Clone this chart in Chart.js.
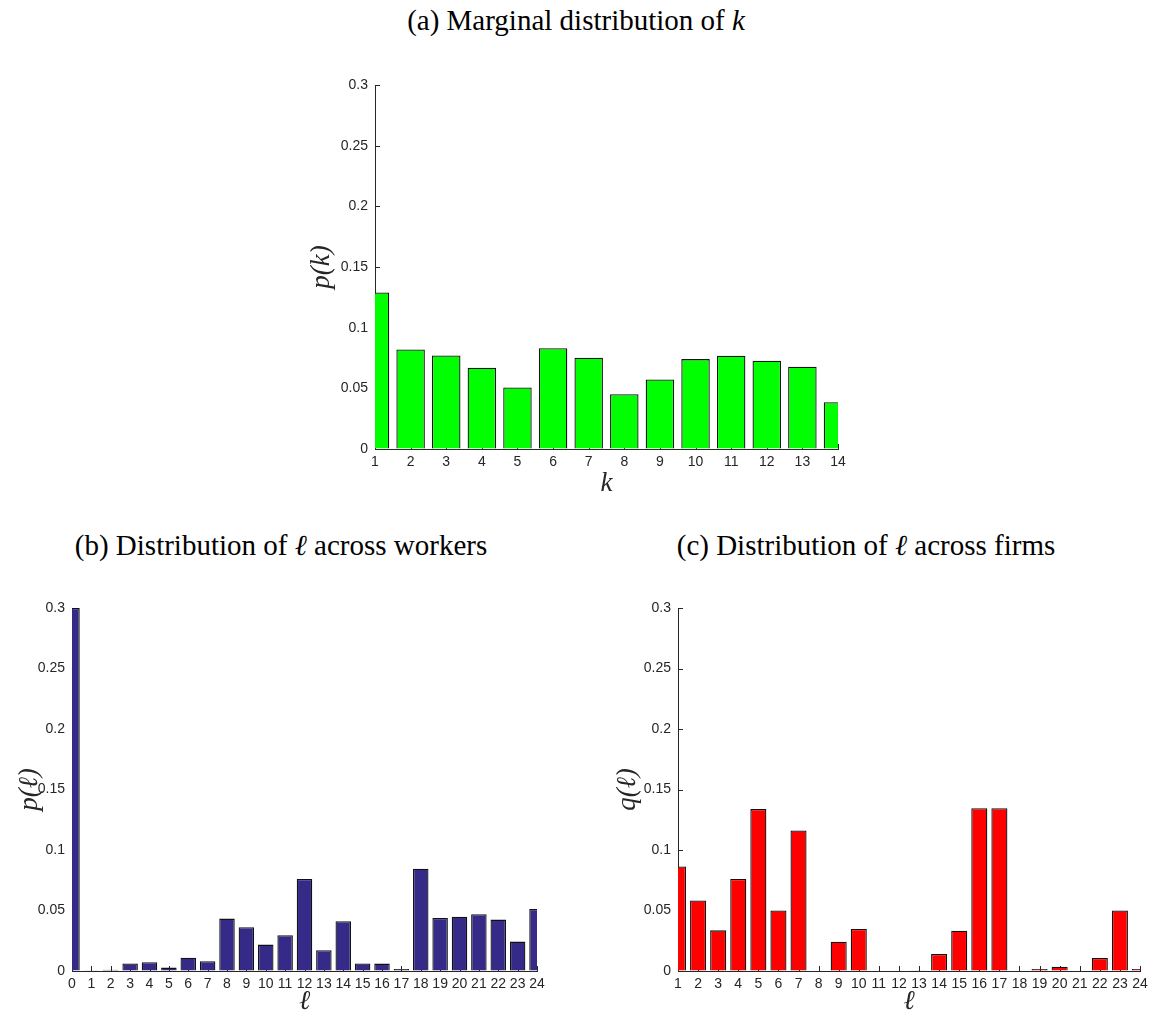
<!DOCTYPE html>
<html>
<head>
<meta charset="utf-8">
<script src="https://cdn.jsdelivr.net/npm/chart.js@4.4.0/dist/chart.umd.min.js"></script>
<style>
  body { margin: 0; width: 1153px; height: 1019px; background: #fff; position: relative; overflow: hidden; }
  .ttl { position: absolute; font-family: "Liberation Serif", "Times New Roman", serif; font-size: 29px; line-height: 34px;
         color: #000; white-space: nowrap; transform: translateX(-50%); }
  canvas { position: absolute; }
</style>
</head>
<body>
<div class="ttl" style="left:576px;top:3px">(a) Marginal distribution of <i>k</i></div>
<div class="ttl" style="left:281px;top:528px">(b) Distribution of <i>ℓ</i> across workers</div>
<div class="ttl" style="left:866px;top:528px">(c) Distribution of <i>ℓ</i> across firms</div>

<canvas id="chartA" width="560" height="450" style="left:300px;top:60px"></canvas>
<canvas id="chartB" width="560" height="439" style="left:0px;top:580px"></canvas>
<canvas id="chartC" width="563" height="439" style="left:590px;top:580px"></canvas>

<script>
// panel (a): marginal distribution of k
const kCats = [1, 2, 3, 4, 5, 6, 7, 8, 9, 10, 11, 12, 13, 14];
const pK = [0.129, 0.082, 0.077, 0.067, 0.0507, 0.083, 0.0752, 0.0452, 0.0573, 0.0741, 0.0769, 0.0727, 0.0678, 0.0386];

// panel (b): distribution of l across workers
const ellWorkers = [0, 1, 2, 3, 4, 5, 6, 7, 8, 9, 10, 11, 12, 13, 14, 15, 16, 17, 18, 19, 20, 21, 22, 23, 24];
const pEll = [0.3, 0.0003, 0.0011, 0.0063, 0.0072, 0.0028, 0.011, 0.008, 0.0433, 0.0361, 0.0218, 0.0295, 0.0761,
              0.0171, 0.0411, 0.0063, 0.0061, 0.0017, 0.0846, 0.0438, 0.0449, 0.0469, 0.0425, 0.0243, 0.0513];

// panel (c): distribution of l across firms
const ellFirms = [1, 2, 3, 4, 5, 6, 7, 8, 9, 10, 11, 12, 13, 14, 15, 16, 17, 18, 19, 20, 21, 22, 23, 24];
const qEll = [0.0864, 0.0583, 0.0336, 0.076, 0.1338, 0.0501, 0.1161, 0.0005, 0.0242, 0.0347, 0, 0, 0.0003,
              0.014, 0.0333, 0.1346, 0.1346, 0, 0.0017, 0.0036, 0, 0.0107, 0.0501, 0.0017];

const yMin = 0, yMax = 0.3, yStep = 0.05;

const AXIS = '#262626';
const tickFont = { family: '"Liberation Sans", Arial, sans-serif', size: 14 };
const labFont = { family: '"Liberation Serif", "Times New Roman", serif', size: 27, style: 'italic' };

// MATLAB style ticks pointing into the axes, drawn under the bars
const inTicks = {
  id: 'inTicks',
  beforeDatasetsDraw(chart) {
    const { ctx, chartArea: a, scales: { x, y } } = chart;
    ctx.save();
    ctx.strokeStyle = AXIS;
    ctx.lineWidth = 1;
    ctx.beginPath();
    x.ticks.forEach(t => {
      const px = Math.round(x.getPixelForValue(t.value)) + 0.5;
      ctx.moveTo(px, a.bottom);
      ctx.lineTo(px, a.bottom - 5);
    });
    y.ticks.forEach(t => {
      const py = Math.round(y.getPixelForValue(t.value)) + 0.5;
      ctx.moveTo(a.left, py);
      ctx.lineTo(a.left + 5, py);
    });
    ctx.stroke();
    ctx.restore();
  }
};

function makePanel(id, cats, vals, color, cfg) {
  return new Chart(document.getElementById(id), {
    type: 'bar',
    data: {
      datasets: [{
        data: cats.map((c, i) => ({ x: c, y: vals[i] })),
        backgroundColor: color,
        borderColor: '#111',
        borderWidth: 1.3,
        barPercentage: 0.8,
        categoryPercentage: 1,
        clip: 0
      }]
    },
    options: {
      responsive: false,
      animation: false,
      devicePixelRatio: 1,
      layout: { padding: cfg.padding },
      plugins: { legend: { display: false }, tooltip: { enabled: false } },
      scales: {
        x: {
          type: 'linear',
          min: cats[0], max: cats[cats.length - 1],
          offset: false,
          z: 1,
          grid: { display: true, drawOnChartArea: false, drawTicks: false, offset: false },
          border: { display: true, color: AXIS, width: 1 },
          ticks: { stepSize: 1, autoSkip: false, maxRotation: 0, color: AXIS, font: tickFont, padding: 5 },
          title: { display: true, text: cfg.xTitle, color: AXIS, font: labFont, padding: { top: 0, bottom: cfg.xTitlePad } },
          afterFit(s) { s.height = cfg.xHeight; }
        },
        y: {
          min: yMin, max: yMax,
          z: 1,
          grid: { display: true, drawOnChartArea: false, drawTicks: false },
          border: { display: true, color: AXIS, width: 1 },
          ticks: {
            stepSize: yStep, color: AXIS, font: tickFont, padding: 7,
            callback: v => String(Number(v.toFixed(2)))
          },
          title: { display: true, text: cfg.yTitle, color: AXIS, font: labFont, padding: { top: cfg.yTitlePad, bottom: 0 } },
          afterFit(s) { s.width = cfg.yWidth; }
        }
      }
    },
    plugins: [inTicks]
  });
}

makePanel('chartA', kCats, pK, '#00ff00', {
  padding: { top: 25, right: 22, bottom: 0, left: 0 },
  xHeight: 61, yWidth: 75, xTitle: 'k', yTitle: 'p(k)', xTitlePad: 10, yTitlePad: 6
});

makePanel('chartB', ellWorkers, pEll, '#352a87', {
  padding: { top: 28, right: 23, bottom: 0, left: 0 },
  xHeight: 48, yWidth: 72, xTitle: 'ℓ', yTitle: 'p(ℓ)', xTitlePad: 1, yTitlePad: 14
});

makePanel('chartC', ellFirms, qEll, '#ff0000', {
  padding: { top: 28, right: 13, bottom: 0, left: 0 },
  xHeight: 48, yWidth: 88, xTitle: 'ℓ', yTitle: 'q(ℓ)', xTitlePad: 1, yTitlePad: 22
});
</script>
</body>
</html>
